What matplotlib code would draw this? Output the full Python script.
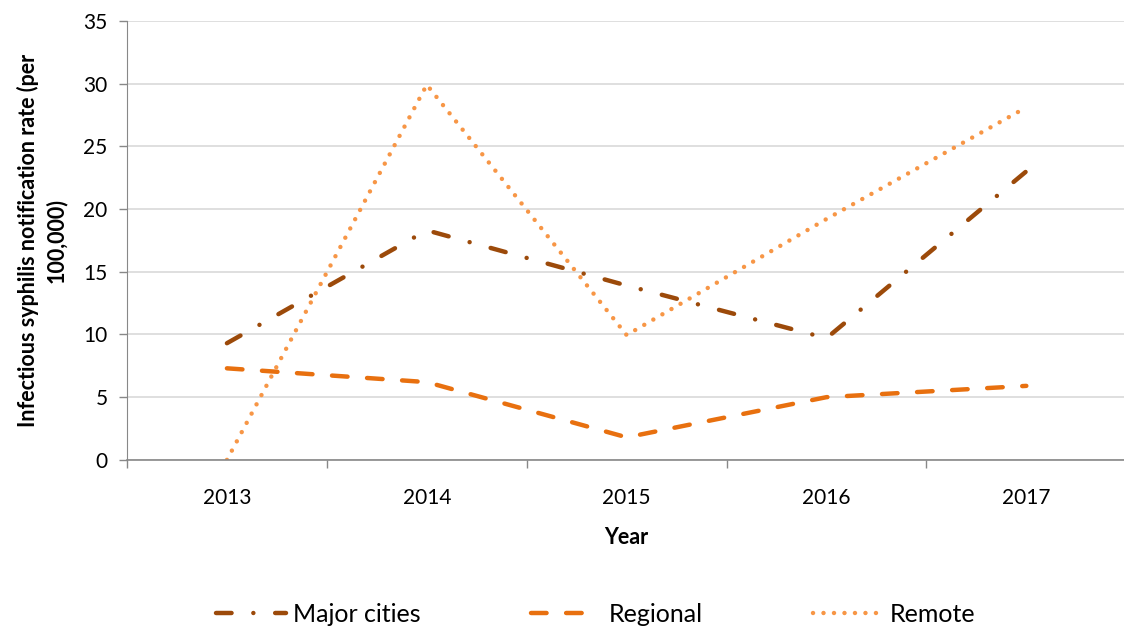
import matplotlib
matplotlib.use("Agg")
import matplotlib.pyplot as plt
import numpy as np

years = ["2013", "2014", "2015", "2016", "2017"]
major_cities = [9.3, 18.3, 13.9, 9.7, 23.0]
regional = [7.3, 6.2, 1.8, 5.0, 5.9]
remote = [0.0, 29.9, 9.95, 19.2, 28.1]

plt.rcParams['font.family'] = ['Lato', 'DejaVu Sans']

fig = plt.figure(figsize=(11.24, 6.3), dpi=100)
ax = fig.add_axes([0.113, 0.270, 0.889, 0.697])

x = np.arange(len(years))
ax.plot(x, major_cities, color='#9C4A0A', lw=3.2, linestyle=(0, (3.5, 4.9, 0.01, 4.9)),
        dash_capstyle='round', solid_capstyle='round', label='Major cities')
ax.plot(x, regional, color='#E8700F', lw=3.2, linestyle=(0, (3.5, 4.4)),
        dash_capstyle='round', label='Regional')
ax.plot(x, remote, color='#F79646', lw=3.2, linestyle=(0, (0.01, 2.35)),
        dash_capstyle='round', label='Remote')

ax.set_xlim(-0.5, 4.5)
ax.set_ylim(0, 35)
ax.set_yticks(range(0, 36, 5))
ax.set_xticks(x)
ax.set_xticklabels(years)
ax.set_xticks(np.arange(-0.5, 4.6, 1), minor=True)
ax.tick_params(axis='x', which='major', length=0, pad=20, labelsize=15)
ax.tick_params(axis='x', which='minor', length=6, color='#888888', width=1)
ax.tick_params(axis='y', length=6, color='#888888', width=1, labelsize=15, pad=8)
ax.grid(axis='y', color='#D9D9D9', lw=1.2)
ax.set_axisbelow(True)
for s in ['top', 'right']:
    ax.spines[s].set_visible(False)
ax.spines['left'].set_color('#888888')
ax.spines['bottom'].set_color('#888888')
ax.spines['bottom'].set_linewidth(1.2)

ax.set_xlabel('Year', fontsize=15.5, fontweight='bold', labelpad=14)
ax.set_ylabel('Infectious syphilis notification rate (per\n100,000)', fontsize=15.5,
              fontweight='bold', labelpad=12, linespacing=1.35)

leg = fig.legend(loc='center', bbox_to_anchor=(0.53, 0.025), ncol=3, frameon=False,
                 fontsize=18, handlelength=2.8, columnspacing=4.4, handletextpad=0.3)

fig.savefig('out.png', dpi=100)
